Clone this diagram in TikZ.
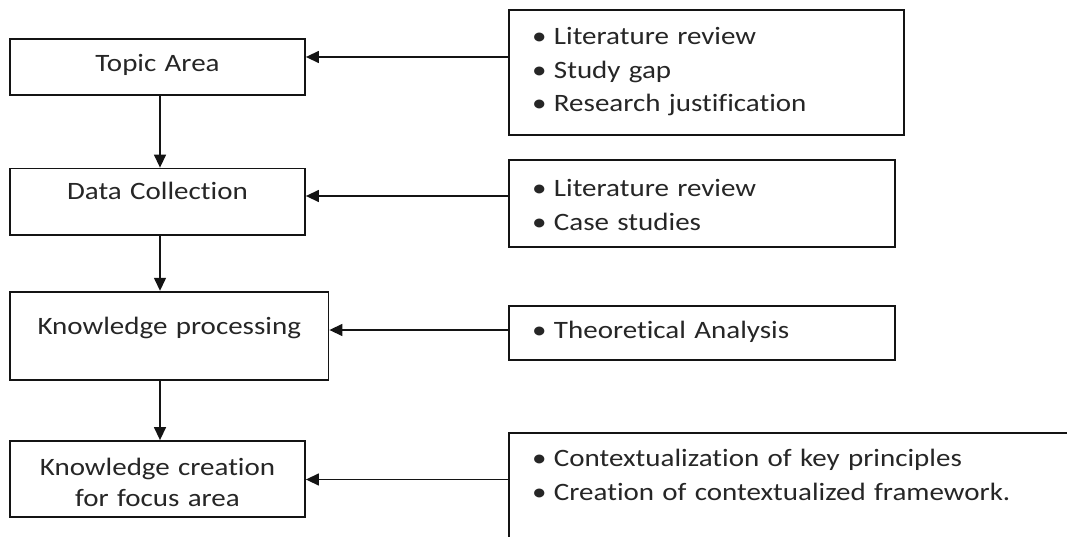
\documentclass[tikz,border=0pt]{standalone}
\usepackage{fontspec}
\setmainfont{Carlito}[FakeStretch=1.16, Ligatures=NoCommon]
\usetikzlibrary{arrows.meta}
\definecolor{ink}{RGB}{20,20,20}
\definecolor{txt}{RGB}{38,38,38}
% bullet followed by a fixed gap before the item text
\newcommand{\bul}{\makebox[22pt][l]{\textbullet}}

\begin{document}
\begin{tikzpicture}[x=1pt,y=-1pt,
  box/.style={draw=ink, line width=1.8pt, anchor=base, inner xsep=0pt, inner ysep=0pt, text=txt},
  stage/.style={box, align=center, font=\fontsize{25}{30.3}\selectfont},
  source/.style={box, align=left, inner xsep=23pt, font=\fontsize{25}{33.5}\selectfont},
  arr/.style={draw=ink, line width=1.4pt, -{Triangle[length=13pt,width=12pt]}}]
\useasboundingbox (0,0) rectangle (1067,537);
\clip (0,0) rectangle (1067,537);
\fill[white] (0,0) rectangle (1067,537);

% process stages (left column)
\node[stage, text width=295pt, text height=32.4pt, text depth=23pt] (ta) at (157.5,71.7) {Topic Area};
\node[stage, text width=295pt, text height=31.5pt, text depth=35pt] (dc) at (157.5,200) {Data Collection};
\node[stage, text width=318.5pt, text height=42.3pt, text depth=46pt] (kp) at (169.25,334) {Knowledge processing};
\node[stage, text width=295pt, text height=34.7pt, text depth=41.6pt] (kc) at (157.5,475.7) {Knowledge creation\\for focus area};

% inputs to each stage (right column)
\node[source, text width=349pt, text height=35pt, text depth=90pt] (r1) at (706.5,45)
  {\bul Literature review\\\bul Study gap\\\bul Research justification};
\node[source, text width=340pt, text height=36.7pt, text depth=50.3pt] (r2) at (702,196.7)
  {\bul Literature review\\\bul Case studies};
\node[source, text width=340pt, text height=32.6pt, text depth=21.7pt] (r3) at (702,338.3)
  {\bul Theoretical Analysis};
\node[source, text width=554pt, text height=33.4pt, text depth=100pt] (r4) at (809,466.7)
  {\bul Contextualization of key principles\\\bul Creation of contextualized framework.};

% downward flow between stages
\coordinate (spine) at ([xshift=2.5pt]ta.south);
\draw[arr] (spine) -- (spine |- dc.north);
\draw[arr] (spine |- dc.south) -- (spine |- kp.north);
\draw[arr] (spine |- kp.south) -- (spine |- kc.north);

% inputs feeding each stage
\coordinate (in1) at ([yshift=14.7pt]ta.base east);
\coordinate (in2) at ([yshift=4pt]dc.base east);
\coordinate (in3) at ([yshift=4pt]kp.base east);
\coordinate (in4) at ([yshift=-3.8pt]kc.base east);
\draw[arr] (in1 -| r1.west) -- (in1);
\draw[arr] (in2 -| r2.west) -- (in2);
\draw[arr] (in3 -| r3.west) -- (in3);
\draw[arr] (in4 -| r4.west) -- (in4);
\end{tikzpicture}
\end{document}
